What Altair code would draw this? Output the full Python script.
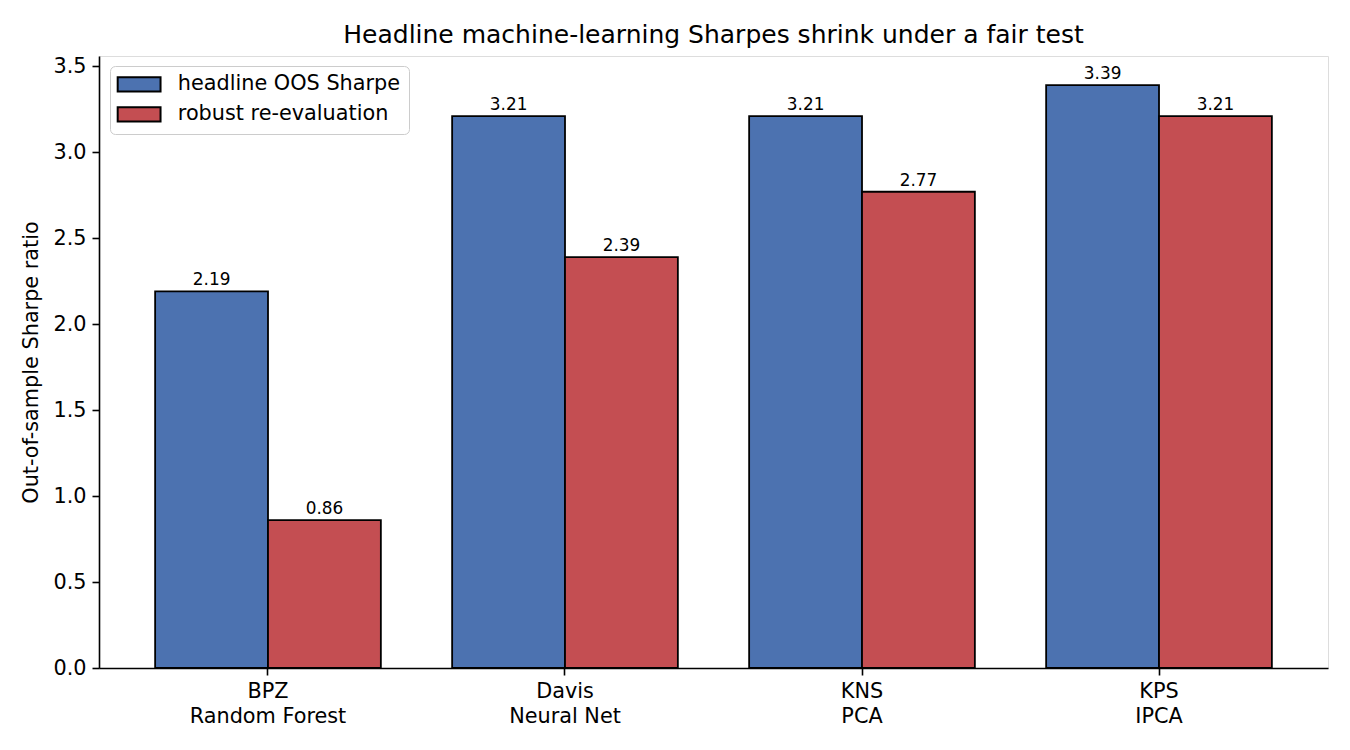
import altair as alt
import pandas as pd

categories = ["BPZ\nRandom Forest", "Davis\nNeural Net", "KNS\nPCA", "KPS\nIPCA"]
series = ["headline OOS Sharpe", "robust re-evaluation"]
headline = [2.19, 3.21, 3.21, 3.39]
robust = [0.86, 2.39, 2.77, 3.21]
colors = ["#4C72B0", "#C44E52"]

rows = []
for c, h, r in zip(categories, headline, robust):
    rows.append({"model": c, "series": series[0], "value": h})
    rows.append({"model": c, "series": series[1], "value": r})
df = pd.DataFrame(rows)

font = "DejaVu Sans"
fs = 20.8

x = alt.X("model:N", sort=categories, title=None,
          scale=alt.Scale(paddingInner=0.24, paddingOuter=0.189),
          axis=alt.Axis(labelExpr="split(datum.label, '\\n')", labelAngle=0,
                        labelFontSize=fs, labelColor="black", labelFont=font,
                        labelLineHeight=25, labelPadding=6,
                        tickColor="black", domainColor="black", tickSize=7,
                        tickWidth=1.6, domainWidth=1.6, grid=False))
xo = alt.XOffset("series:N", sort=series, scale=alt.Scale(paddingInner=0, paddingOuter=0))
y = alt.Y("value:Q", title="Out-of-sample Sharpe ratio",
          scale=alt.Scale(domain=[0, 3.5595], nice=False, zero=True),
          axis=alt.Axis(values=[0, 0.5, 1, 1.5, 2, 2.5, 3, 3.5], format=".1f",
                        labelFontSize=fs, labelColor="black", labelFont=font,
                        labelPadding=6,
                        titleFontSize=fs, titleFontWeight="normal", titleFont=font,
                        titleColor="black", titlePadding=11,
                        tickColor="black", domainColor="black", tickSize=7,
                        tickWidth=1.6, domainWidth=1.6, grid=False))

bars = alt.Chart(df).mark_bar(stroke="black", strokeWidth=1.8).encode(
    x=x, xOffset=xo, y=y,
    color=alt.Color("series:N", sort=series,
                    scale=alt.Scale(domain=series, range=colors),
                    legend=alt.Legend(title=None, orient="none", legendX=11, legendY=10,
                                      symbolType="M-1.5,-1L4.5,-1L4.5,1L-1.5,1Z",
                                      symbolSize=204, symbolStrokeColor="black",
                                      symbolStrokeWidth=2, symbolOpacity=1,
                                      labelFontSize=fs, labelFont=font, labelColor="black",
                                      labelLimit=400,
                                      rowPadding=7, padding=8, fillColor="white",
                                      strokeColor="#cccccc", cornerRadius=5,
                                      labelOffset=39)),
)

labels = alt.Chart(df).mark_text(baseline="alphabetic", dy=-6, fontSize=16.9,
                                 font=font, color="black").encode(
    x=alt.X("model:N", sort=categories), xOffset=alt.XOffset("series:N", sort=series),
    y=alt.Y("value:Q"),
    text=alt.Text("value:Q", format=".2f"),
)

chart = alt.layer(bars, labels).properties(
    width=1229, height=612,
    title=alt.TitleParams("Headline machine-learning Sharpes shrink under a fair test",
                          fontSize=25, font=font, fontWeight="normal", color="black",
                          anchor="middle", offset=7),
    padding={"left": 99, "top": 56, "right": 22, "bottom": 82},
    autosize=alt.AutoSizeParams(type="none"),
).configure_view(stroke="black", strokeWidth=1.6).configure(background="white")

chart.save("out.html", embed_options={"renderer": "svg", "actions": False})
